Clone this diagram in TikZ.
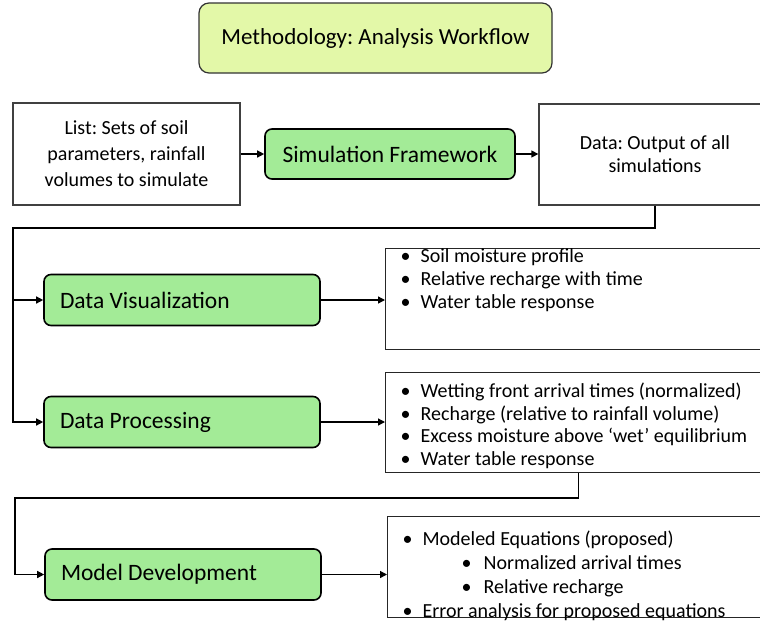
\documentclass[tikz,border=0pt]{standalone}
\usepackage{fontspec}
\setmainfont{Carlito}
\usetikzlibrary{arrows.meta}
\definecolor{boxgreen}{RGB}{163,235,151}
\definecolor{titlefill}{RGB}{227,248,168}
\newcommand{\bitem}[1]{\makebox[35pt][l]{\hspace{15pt}\textbullet}#1\par}
\newcommand{\bsub}[1]{\makebox[96pt][l]{\hspace{74pt}\textbullet}#1\par}
\newcommand{\blist}[4]{\parbox[c][#1pt][t]{386pt}{\fontsize{20}{#2}\selectfont\leavevmode\rule{0pt}{#3pt}#4}}
\frenchspacing
\begin{document}
\frenchspacing
\begin{tikzpicture}[x=1pt,y=-1pt,
  titlebox/.style={draw=black!80, line width=1.2pt, fill=titlefill, rounded corners=10pt,
    minimum width=353pt, minimum height=70pt, inner sep=0pt, font=\fontsize{23}{27}\selectfont},
  plainbox/.style={draw=black!75, line width=1.3pt, fill=white, align=center,
    font=\fontsize{20}{26}\selectfont, inner sep=0pt},
  greenbox/.style={draw=black, line width=1.6pt, fill=boxgreen, rounded corners=7pt,
    minimum width=276pt, minimum height=51pt, inner sep=0pt, font=\fontsize{23.5}{27}\selectfont},
  listbox/.style={draw=black!85, line width=1.2pt, fill=white, inner sep=0pt, anchor=north west},
  arr/.style={line width=1.3pt, -{Triangle[length=7pt,width=7pt]}},
  conn/.style={line width=1.3pt}]
\useasboundingbox (0,0) rectangle (760,630);
\clip (0,0) rectangle (760,630);

\node[titlebox] (title) at (375.5,38) {Methodology: Analysis Workflow};

\node[plainbox, minimum width=227pt, minimum height=102pt] (list) at (126.5,154)
  {List: Sets of soil\\parameters, rainfall\\volumes to simulate};
\node[greenbox, minimum width=250pt, minimum height=50pt] (sim) at (390,154) {Simulation Framework};
\node[plainbox, minimum width=232pt, minimum height=101pt, font=\fontsize{20}{23}\selectfont] (data) at (655,154.5)
  {Data: Output of all\\simulations};

\node[greenbox] (viz) at (182,300) {\makebox[244pt][l]{Data Visualization}};
\node[greenbox] (proc) at (182,422) {\makebox[244pt][l]{Data Processing}};
\node[greenbox] (model) at (183,574.5) {\makebox[244pt][l]{Model Development}};

\node[listbox] (vizb) at (385,248) {\blist{101}{23}{14.2}{%
  \bitem{Soil moisture profile}
  \bitem{Relative recharge with time}
  \bitem{Water table response}}};
\node[listbox] (procb) at (385,372) {\blist{100}{22.7}{24.7}{%
  \bitem{Wetting front arrival times (normalized)}
  \bitem{Recharge (relative to rainfall volume)}
  \bitem{Excess moisture above ‘wet’ equilibrium}
  \bitem{Water table response}}};
\node[listbox] (modelb) at (387,516) {\blist{101}{24}{28.7}{%
  \bitem{Modeled Equations (proposed)}
  \bsub{Normalized arrival times}
  \bsub{Relative recharge}
  \bitem{Error analysis for proposed equations}}};

\coordinate (c1) at (13,228);
\coordinate (c2) at (15,498);

\draw[arr] (list.east |- sim.west) -- (sim.west);
\draw[arr] (sim.east) -- (sim.east -| data.west);
\draw[arr] (data.south) |- (c1) |- (proc.west);
\draw[arr] (c1 |- viz.west) -- (viz.west);
\draw[arr] (viz.east) -- (viz.east -| vizb.west);
\draw[arr] (proc.east) -- (proc.east -| procb.west);
\draw[arr] (procb.south) |- (c2) |- (model.west);
\draw[arr] (model.east) -- (model.east -| modelb.west);
\end{tikzpicture}
\end{document}
